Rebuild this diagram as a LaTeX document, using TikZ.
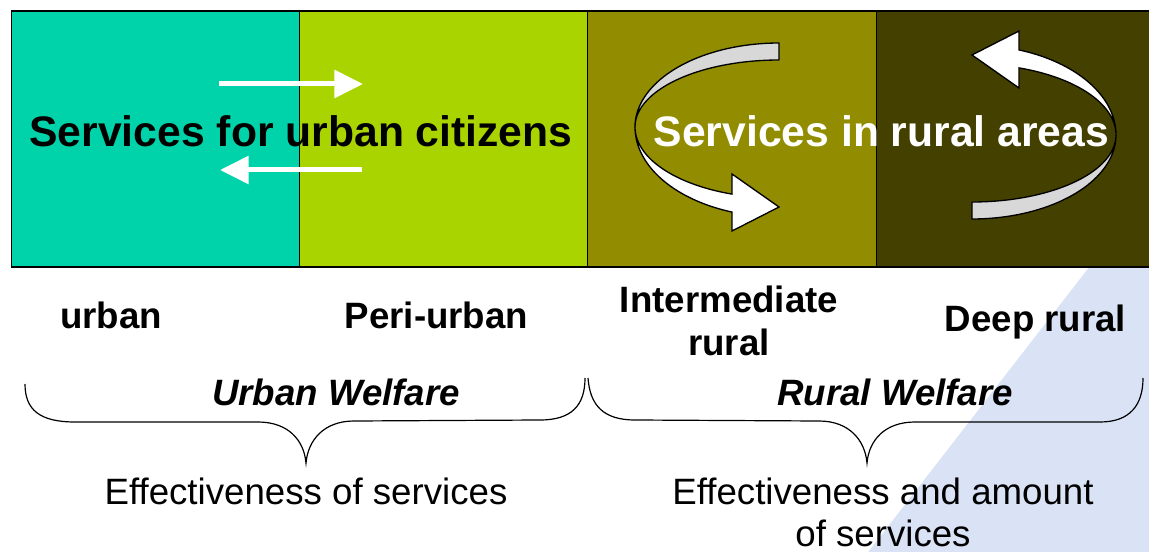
\documentclass[tikz,border=0pt]{standalone}
\usepackage{fontspec}
\setmainfont{Liberation Sans}
\usetikzlibrary{arrows.meta}

\definecolor{urbanTeal}{RGB}{0,210,170}
\definecolor{periLime}{RGB}{170,212,0}
\definecolor{interOlive}{RGB}{146,140,0}
\definecolor{deepOlive}{RGB}{68,64,0}
\definecolor{ribbonGrey}{RGB}{216,216,216}
\definecolor{paleBlue}{RGB}{218,227,245}

\tikzset{
  zone/.style={draw=black, line width=0.8pt, anchor=north west, inner sep=0pt,
               minimum height=192pt},
  bigtitle/.style={anchor=base, inner sep=0pt, font=\fontsize{32}{38}\selectfont\bfseries},
  zonelabel/.style={anchor=base, inner sep=0pt, align=center,
                    font=\fontsize{27.5}{32}\selectfont\bfseries},
  welfare/.style={anchor=base, inner sep=0pt,
                  font=\fontsize{27.5}{32}\selectfont\bfseries\itshape},
  effect/.style={anchor=base, inner sep=0pt, align=center,
                 font=\fontsize{27.5}{31.5}\selectfont},
  flowarrow/.style={white, line width=3.75pt, -{Triangle[width=20.5pt,length=21.5pt]}},
  brace/.style={draw=black, line width=0.9pt},
  ribbon/.pic={
    % back face of the band (upper half)
    \filldraw[fill=ribbonGrey, draw=black, line width=1pt, line join=round]
      plot[domain=90:180, samples=40, variable=\t] ({144*cos(\t)}, {-84*sin(\t)})
      -- plot[domain=180:90, samples=40, variable=\t] ({144*cos(\t)}, {-67*sin(\t)})
      -- cycle;
    % front face of the band (lower half) with its head
    \filldraw[fill=white, draw=black, line width=1pt, line join=miter]
      plot[domain=180:250.95, samples=40, variable=\t] ({144*cos(\t)}, {-90*sin(\t)})
      -- (-47,104) -- (0,80) -- (-47,47)
      -- plot[domain=250.95:180, samples=40, variable=\t] ({144*cos(\t)}, {-71*sin(\t)})
      -- cycle;
  }
}

\begin{document}
\begin{tikzpicture}[x=0.75pt, y=-0.75pt]
\useasboundingbox (0,0) rectangle (1149,552);

% pale blue wedge in the lower right corner
\fill[paleBlue] (1090,266) -- (1160,266) -- (1160,560) -- (862,560) -- cycle;

% the four zones
\node[zone, fill=urbanTeal,  minimum width=216.4pt] (zurban) at (10.5,10.5) {};
\node[zone, fill=periLime,   minimum width=216pt]   (zperi)  at (299,10.5) {};
\node[zone, fill=interOlive, minimum width=216.4pt] (zinter) at (587,10.5) {};
\node[zone, fill=deepOlive,  minimum width=210pt]   (zdeep)  at (875.5,10.5) {};

% exchange between urban and peri-urban
\coordinate (outA) at (219,84);
\coordinate (outB) at (363,84);
\coordinate (backA) at (362,170);
\coordinate (backB) at (220,170);
\draw[flowarrow] (outA) -- (outB);
\draw[flowarrow] (backA) -- (backB);

% circulating services in the rural zones
\pic at (779,127) {ribbon};
\pic[rotate=180] at (972,135) {ribbon};

% headings across the zones
\node[bigtitle] (urbanTitle) at (301,147) {Services for urban citizens};
\node[bigtitle, text=white] (ruralTitle) at (881.5,147) {Services in rural areas};

% zone names (multi-line nodes sit on their last baseline)
\node[zonelabel] (lUrban) at (111,328) {urban};
\node[zonelabel] (lPeri) at (436.5,328) {Peri-urban};
\node[zonelabel] (lInter) at (729,355) {Intermediate\\rural};
\node[zonelabel] (lDeep) at (1035.5,331) {Deep rural};

% welfare groupings
\node[welfare] (wUrban) at (336,405) {Urban Welfare};
\node[welfare] (wRural) at (895,405) {Rural Welfare};

\draw[brace] (25,384) .. controls (25,410) and (40,422) .. (75,422)
  -- (258,422) .. controls (288,422) and (304,440) .. (306,463)
  .. controls (308,440) and (324,421) .. (354,421)
  -- (540,420) .. controls (572,420) and (585,405) .. (585,378);
\coordinate (tipUrban) at (306,463);

\draw[brace] (588,378) .. controls (590,405) and (603,420) .. (635,420)
  -- (819,421) .. controls (849,421) and (865,440) .. (867,463)
  .. controls (869,440) and (885,422) .. (915,422)
  -- (1100,422) .. controls (1130,422) and (1143,405) .. (1143,378);
\coordinate (tipRural) at (867,463);

% outcomes
\node[effect] (eUrban) at (306,504) {Effectiveness of services};
\node[effect] (eRural) at (883,546) {Effectiveness and amount\\of services};
\end{tikzpicture}
\end{document}
